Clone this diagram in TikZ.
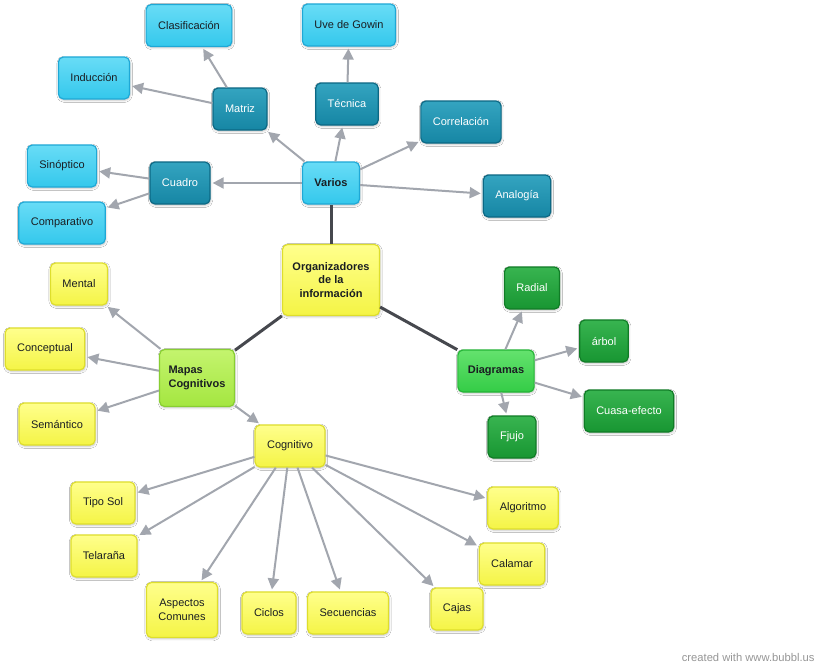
\documentclass[tikz,border=0pt]{standalone}
\usepackage{fontspec}
\setmainfont{Liberation Sans}
\usetikzlibrary{arrows.meta,shadows.blur}

\definecolor{cyanfill}{RGB}{52,200,236}
\definecolor{cyantop}{RGB}{104,220,246}
\definecolor{cyanline}{RGB}{30,168,214}
\definecolor{tealfill}{RGB}{22,134,164}
\definecolor{tealtop}{RGB}{52,164,192}
\definecolor{tealline}{RGB}{12,104,132}
\definecolor{yellowfill}{RGB}{244,244,70}
\definecolor{yellowtop}{RGB}{255,255,140}
\definecolor{yellowline}{RGB}{222,222,44}
\definecolor{limefill}{RGB}{164,230,64}
\definecolor{limetop}{RGB}{196,244,110}
\definecolor{limeline}{RGB}{136,206,50}
\definecolor{greenfill}{RGB}{52,204,70}
\definecolor{greentop}{RGB}{100,226,110}
\definecolor{greenline}{RGB}{36,180,54}
\definecolor{darkgreenfill}{RGB}{24,150,50}
\definecolor{darkgreentop}{RGB}{56,180,80}
\definecolor{darkgreenline}{RGB}{16,124,38}
\definecolor{textdark}{RGB}{26,30,34}
\definecolor{arrowgray}{RGB}{162,166,174}
\definecolor{trunkgray}{RGB}{70,72,78}
\definecolor{creditgray}{RGB}{150,150,150}

\tikzset{
  bubble/.style={rounded corners=5pt, line width=1.2pt, minimum height=42pt,
    inner xsep=12pt, font=\fontsize{11}{13.5}\selectfont,
    blur shadow={shadow xshift=0.6pt, shadow yshift=-1.2pt, shadow blur steps=5, shadow opacity=25}},
  lightbox/.style={bubble, draw=cyanline, top color=cyantop, bottom color=cyanfill, text=textdark},
  tealbox/.style={bubble, draw=tealline, top color=tealtop, bottom color=tealfill, text=white},
  yellowbox/.style={bubble, draw=yellowline, top color=yellowtop, bottom color=yellowfill, text=textdark},
  limebox/.style={bubble, draw=limeline, top color=limetop, bottom color=limefill, text=textdark},
  greenbox/.style={bubble, draw=greenline, top color=greentop, bottom color=greenfill, text=textdark},
  darkgreenbox/.style={bubble, draw=darkgreenline, top color=darkgreentop, bottom color=darkgreenfill, text=white},
  heavy/.style={font=\fontsize{11}{13.5}\selectfont\bfseries},
  arrowline/.style={draw=arrowgray, line width=2pt, -{Triangle[length=11pt,width=11pt]}, shorten >=2pt},
  trunk/.style={draw=trunkgray, line width=3pt}
}

\begin{document}
\begin{tikzpicture}[x=1pt, y=-1pt]
  \useasboundingbox[fill=white] (0,0) rectangle (825,672);

  % centre and main branches
  \node[yellowbox, heavy, align=center, minimum height=71pt, inner xsep=10pt] (org) at (331,280) {Organizadores\\de la\\información};
  \node[lightbox, heavy] (varios) at (331,183) {Varios};
  \node[limebox, heavy, align=left, minimum height=57pt, inner xsep=9pt] (mapas) at (197,378) {Mapas\\Cognitivos};
  \node[greenbox, heavy, inner xsep=10pt] (diag) at (496,371) {Diagramas};

  % Varios
  \node[tealbox] (matriz) at (240,109) {Matriz};
  \node[tealbox] (tecnica) at (347,104) {Técnica};
  \node[tealbox] (correl) at (461,122) {Correlación};
  \node[tealbox] (cuadro) at (180,183) {Cuadro};
  \node[tealbox] (analog) at (517,196) {Analogía};
  \node[lightbox] (clasif) at (189,25.5) {Clasificación};
  \node[lightbox] (induc) at (94,78) {Inducción};
  \node[lightbox] (uve) at (349,25) {Uve de Gowin};
  \node[lightbox] (sinop) at (62,166) {Sinóptico};
  \node[lightbox] (compar) at (62,223) {Comparativo};

  % Diagramas
  \node[darkgreenbox] (radial) at (532,288) {Radial};
  \node[darkgreenbox] (arbol) at (604,341) {árbol};
  \node[darkgreenbox] (causa) at (629,411) {Cuasa-efecto};
  \node[darkgreenbox] (flujo) at (512,437) {Fjujo};

  % Mapas Cognitivos
  \node[yellowbox] (mental) at (79,284) {Mental};
  \node[yellowbox] (concep) at (45,349) {Conceptual};
  \node[yellowbox] (seman) at (57,424) {Semántico};
  \node[yellowbox] (cognit) at (290,446) {Cognitivo};
  \node[yellowbox] (tiposol) at (103,503) {Tipo Sol};
  \node[yellowbox] (telar) at (104,556) {Telaraña};
  \node[yellowbox, align=center, minimum height=55pt] (aspect) at (182,610) {Aspectos\\Comunes};
  \node[yellowbox] (ciclos) at (269,613) {Ciclos};
  \node[yellowbox] (secuen) at (348,613) {Secuencias};
  \node[yellowbox] (cajas) at (457,609) {Cajas};
  \node[yellowbox] (calamar) at (512,564) {Calamar};
  \node[yellowbox] (algor) at (523,508) {Algoritmo};

  % connectors
  \draw[trunk] (org) -- (varios);
  \draw[trunk] (org) -- (mapas);
  \draw[trunk] (org) -- (diag);

  \foreach \kid in {matriz,tecnica,correl,cuadro,analog}
    \draw[arrowline] (varios) -- (\kid);
  \draw[arrowline] (matriz) -- (clasif);
  \draw[arrowline] (matriz) -- (induc);
  \draw[arrowline] (tecnica) -- (uve);
  \draw[arrowline] (cuadro) -- (sinop);
  \draw[arrowline] (cuadro) -- (compar);

  \foreach \kid in {radial,arbol,causa,flujo}
    \draw[arrowline] (diag) -- (\kid);

  \foreach \kid in {mental,concep,seman,cognit}
    \draw[arrowline] (mapas) -- (\kid);
  \foreach \kid in {tiposol,telar,aspect,ciclos,secuen,cajas,calamar,algor}
    \draw[arrowline] (cognit) -- (\kid);

  \node[anchor=east, text=creditgray, font=\fontsize{11.2}{13}\selectfont] (credit) at (818,657) {created with www.bubbl.us};
\end{tikzpicture}
\end{document}
